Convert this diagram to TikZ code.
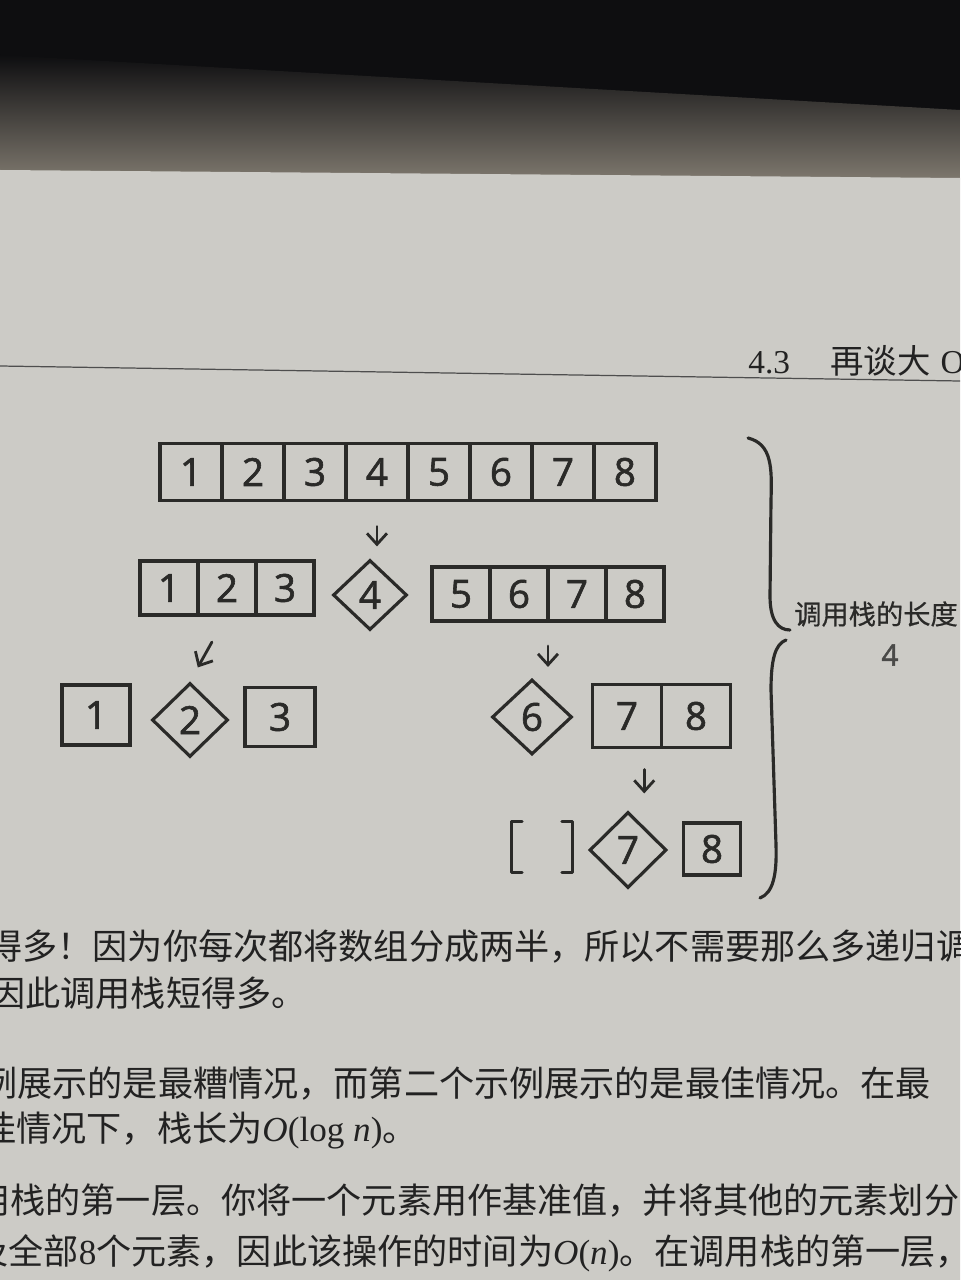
\documentclass[tikz,border=0pt]{standalone}
\usepackage{fontspec}
\setmainfont{Liberation Serif}
\newfontfamily\cjkfont{Noto Sans CJK SC}
\newfontfamily\handfont{Open Sans}[FakeBold=1.6]
\newfontfamily\notefont{Noto Sans CJK SC}[FakeBold=0.6]
\usetikzlibrary{
    arrows.meta,
    positioning,
    calc,
    shapes.geometric
}
\newcommand{\latin}[1]{{\rmfamily #1}}

\definecolor{paper}{RGB}{204,203,198}
\definecolor{ink}{RGB}{42,42,40}
\definecolor{print}{RGB}{34,34,34}
\definecolor{desk}{RGB}{14,14,16}
\definecolor{shelf}{RGB}{126,120,110}

\begin{document}
\begin{tikzpicture}[
    x=0.02cm,
    y=-0.02cm,
    every node/.style={
        font=\handfont\fontsize{22pt}{24pt}\selectfont,
        text=ink
    },
    cell/.style={
        rectangle,
        draw=ink,
        line width=1.8pt,
        outer sep=0pt,
        inner sep=0pt,
        minimum width=1.16cm,
        minimum height=1.08cm
    },
    topcell/.style={
        cell,
        minimum width=1.24cm,
        minimum height=1.14cm
    },
    pivot/.style={
        diamond,
        aspect=1,
        draw=ink,
        line width=1.8pt,
        inner sep=0pt,
        minimum width=1.52cm,
        minimum height=1.48cm
    },
    stroke/.style={
        draw=ink,
        line width=1.8pt,
        line cap=round,
        line join=round
    },
    arrow/.style={
        -{Straight Barb[length=2.2mm,width=4mm]},
        line width=1.6pt,
        line cap=round,
        draw=ink
    },
    handnote/.style={
        font=\notefont\fontsize{15.5pt}{17pt}\selectfont,
        text=ink
    },
    header/.style={
        anchor=base west,
        font=\fontsize{19pt}{21pt}\selectfont,
        text=print,
        inner sep=0pt
    },
    bodyline/.style={
        anchor=west,
        inner sep=0pt,
        font=\cjkfont\fontsize{20pt}{22pt}\selectfont,
        text=print
    }
]

\useasboundingbox (0,0) rectangle (960,1280);
\clip (0,0) rectangle (960,1280);

% ===========================================================
% PHOTO BACKGROUND: desk and page
% ===========================================================

\fill[desk] (0,0) rectangle (960,185);
\shade[top color=desk, bottom color=shelf]
    (0,55) -- (960,110) -- (960,180) -- (0,172) -- cycle;
\fill[paper] (0,170) -- (960,178) -- (960,1280) -- (0,1280) -- cycle;

% ===========================================================
% RUNNING HEAD
% ===========================================================

\node[header] (secno) at (748,373) {4.3};
\node[header] (sectitle) at (830,373)
    {{\cjkfont 再谈大}\hspace{0.3em}O};

\draw[draw=print!80, line width=0.7pt] (0,366) -- (960,381);

% ===========================================================
% FIRST LEVEL: the whole array
% ===========================================================

\node[topcell] (t1) at (191,472) {1};
\node[topcell, right=0pt of t1] (t2) {2};
\node[topcell, right=0pt of t2] (t3) {3};
\node[topcell, right=0pt of t3] (t4) {4};
\node[topcell, right=0pt of t4] (t5) {5};
\node[topcell, right=0pt of t5] (t6) {6};
\node[topcell, right=0pt of t6] (t7) {7};
\node[topcell, right=0pt of t7] (t8) {8};

% ===========================================================
% SECOND LEVEL: pivot 4
% ===========================================================

\node[cell] (l1) at (169,588) {1};
\node[cell, right=0pt of l1] (l2) {2};
\node[cell, right=0pt of l2] (l3) {3};

\node[pivot, minimum width=1.48cm, minimum height=1.4cm] (d4) at (370,595) {4};

\node[cell] (r5) at (461,594) {5};
\node[cell, right=0pt of r5] (r6) {6};
\node[cell, right=0pt of r6] (r7) {7};
\node[cell, right=0pt of r7] (r8) {8};

\draw[arrow, shorten <=0.52cm, shorten >=0.24cm] (t4.south) -- (t4.south |- d4.north);

% ===========================================================
% THIRD LEVEL: pivots 2 and 6
% ===========================================================

\node[cell, minimum width=1.36cm, minimum height=1.2cm] (b1) at (96,715) {1};
\node[pivot] (d2) at (190,720) {2};
\node[cell, minimum width=1.4cm, minimum height=1.18cm] (b3) at (280,717) {3};

\node[pivot, minimum width=1.6cm, minimum height=1.5cm] (d6) at (532,717) {6};
\node[cell, minimum width=1.38cm, minimum height=1.26cm] (s7) at (627,716) {7};
\node[cell, minimum width=1.38cm, minimum height=1.26cm, right=0pt of s7] (s8) {8};

\draw[arrow, shorten <=0.62cm, shorten >=0.32cm] (l2.south) -- (d2.north);
\draw[arrow, shorten <=0.5cm, shorten >=0.22cm] (r7.south west) -- (r7.south west |- d6.north);

% ===========================================================
% FOURTH LEVEL: pivot 7
% ===========================================================

\node[minimum width=1.22cm, minimum height=1.0cm, inner sep=0pt] (nil) at (542,847) {};
\node[pivot, minimum width=1.54cm, minimum height=1.52cm] (p7) at (628,850) {7};
\node[cell, minimum width=1.14cm, minimum height=1.04cm] (e8) at (712,849) {8};

% empty list drawn as two brackets
\draw[stroke] ([xshift=0.22cm]nil.north west) -- (nil.north west)
    -- (nil.south west) -- ([xshift=0.22cm]nil.south west);
\draw[stroke] ([xshift=-0.22cm]nil.north east) -- (nil.north east)
    -- (nil.south east) -- ([xshift=-0.22cm]nil.south east);

\coordinate (split78) at ($(s7.south)!0.5!(s7.south east)$);
\draw[arrow, shorten <=0.44cm, shorten >=0.34cm] (split78) -- (split78 |- p7.north);

% ===========================================================
% CALL STACK BRACE
% ===========================================================

\draw[stroke]
    (748,438) .. controls (772,444) and (772,468) .. (771,500)
    -- (770,596) .. controls (770,620) and (778,630) .. (790,630);
\draw[stroke]
    (786,640) .. controls (775,644) and (771,660) .. (771,690)
    -- (776,845) .. controls (777,875) and (773,893) .. (760,898);

\node[handnote] (stacklen) at (876,614) {调用栈的长度};
\node[font=\handfont\fontsize{17pt}{19pt}\selectfont, text=ink!85] (depth) at (890,655) {4};

% ===========================================================
% BODY TEXT
% ===========================================================

\node[bodyline] (para1) at (-13,947)
    {得多！因为你每次都将数组分成两半，所以不需要那么多递归调};
\node[bodyline] (para2) at (-10,993)
    {因此调用栈短得多。};
\node[bodyline] (para3) at (-18,1084)
    {例展示的是最糟情况，而第二个示例展示的是最佳情况。在最};
\node[bodyline] (para4) at (-19,1131)
    {佳情况下，栈长为\latin{\textit{O}(log \textit{n})}。};
\node[bodyline] (para5) at (-25,1201)
    {用栈的第一层。你将一个元素用作基准值，并将其他的元素划分};
\node[bodyline] (para6) at (-27,1253)
    {及全部\latin{8}个元素，因此该操作的时间为\latin{\textit{O}(\textit{n})}。在调用栈的第一层，};

\end{tikzpicture}
\end{document}
